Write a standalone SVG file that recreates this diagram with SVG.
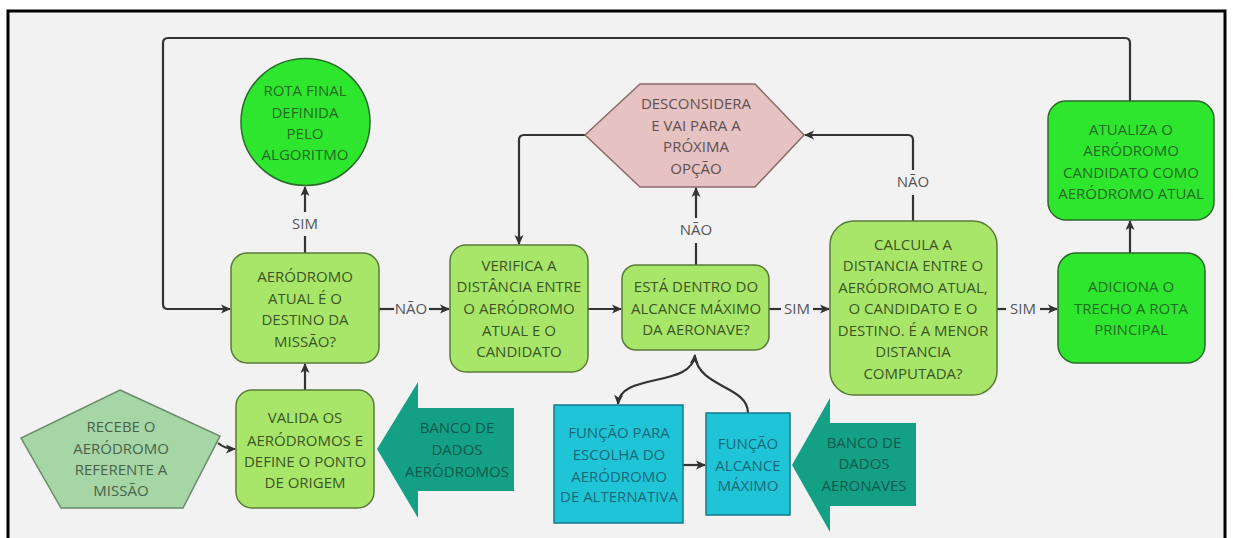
<svg xmlns="http://www.w3.org/2000/svg" width="1233" height="538" viewBox="0 0 1233 538">
<defs>
<marker id="ah" viewBox="0 0 10 10" refX="9" refY="5" markerWidth="10" markerHeight="10" markerUnits="userSpaceOnUse" orient="auto-start-reverse">
<path d="M0,0.5 L10,5 L0,9.5 L2.5,5 z" fill="#333"/>
</marker>
</defs>
<style>
text{font-family:"Open Sans","Liberation Sans",sans-serif;font-size:15px;text-anchor:middle}
.lg{fill:#a8e66a;stroke:#5a7a3a;stroke-width:1.5}
.bg{fill:#2fe62f;stroke:#2a6a2a;stroke-width:1.5}
.lgt{fill:#3b5524}
.bgt{fill:#236b23}
.cy{fill:#1fc5d6;stroke:#167a88;stroke-width:1.5}
.cyt{fill:#17697a}
.tl{fill:#14a084}
.tlt{fill:#0e5a4c}
.c{fill:none;stroke:#333;stroke-width:2.2}
.ca{fill:none;stroke:#333;stroke-width:2.2;marker-end:url(#ah)}
.lbl{fill:#555}
</style>
<rect x="0" y="0" width="1233" height="538" fill="#ffffff"/>
<rect x="8" y="11" width="1217" height="540" fill="#f2f2f2" stroke="#000" stroke-width="3"/>

<g id="connectors">
<path class="ca" d="M1130 101 V43 Q1130 38 1125 38 H168 Q163 38 163 43 V304 Q163 309 168 309 H230"/>
<path class="c" d="M305 253 V236"/>
<path class="ca" d="M305 212 V187"/>
<text class="lbl" x="305" y="229">SIM</text>
<path class="ca" d="M305 390 V364"/>
<path class="c" d="M379 309 H394"/>
<text class="lbl" x="411" y="314">NÃO</text>
<path class="ca" d="M429 309 H449"/>
<path class="ca" d="M588 309 H621"/>
<path class="ca" d="M585 135 H524 Q519 135 519 140 V244"/>
<path class="c" d="M696 265 V243"/>
<path class="ca" d="M696 218 V188"/>
<text class="lbl" x="696" y="235">NÃO</text>
<path class="c" d="M769 309 H781"/>
<text class="lbl" x="797" y="314">SIM</text>
<path class="ca" d="M813 309 H829"/>
<path class="c" d="M913 221 V195"/>
<path class="ca" d="M913 170 V140 Q913 135 908 135 H805"/>
<text class="lbl" x="913" y="187">NÃO</text>
<path class="c" d="M997 309 H1006"/>
<text class="lbl" x="1023" y="314">SIM</text>
<path class="ca" d="M1040 309 H1057"/>
<path class="ca" d="M1130 253 V221"/>
<path class="ca" d="M218 443 Q225 449 235 449"/>
<path class="ca" d="M683 465 H705"/>
<path class="c" d="M618 404 C620 372 692 388 695 355" marker-start="url(#ah)" marker-end="url(#ah)"/>
<path class="c" d="M748 413 C748 386 700 388 695 357"/>
</g>

<g id="n-rota">
<ellipse cx="305.5" cy="122" rx="64.5" ry="63.5" class="bg"/>
<text class="bgt" x="305" y="96">ROTA FINAL</text>
<text class="bgt" x="305" y="118">DEFINIDA</text>
<text class="bgt" x="305" y="139">PELO</text>
<text class="bgt" x="305" y="160">ALGORITMO</text>
</g>

<g id="n-desconsidera">
<polygon points="585,135 640,84 755,84 804,135 755,187 640,187" fill="#e6c2c2" stroke="#8a6a6a" stroke-width="1.5"/>
<text x="696" y="109" fill="#5e5050">DESCONSIDERA</text>
<text x="696" y="131" fill="#5e5050">E VAI PARA A</text>
<text x="696" y="152" fill="#5e5050">PRÓXIMA</text>
<text x="696" y="174" fill="#5e5050">OPÇÃO</text>
</g>

<g id="n-atualiza">
<rect x="1048" y="101" width="166" height="119" rx="18" class="bg"/>
<text class="bgt" x="1131" y="135">ATUALIZA O</text>
<text class="bgt" x="1131" y="156">AERÓDROMO</text>
<text class="bgt" x="1131" y="178">CANDIDATO COMO</text>
<text class="bgt" x="1131" y="199">AERÓDROMO ATUAL</text>
</g>

<g id="n-aerodromo-atual">
<rect x="231" y="253" width="148" height="110" rx="16" class="lg"/>
<text class="lgt" x="305" y="282">AERÓDROMO</text>
<text class="lgt" x="305" y="304">ATUAL É O</text>
<text class="lgt" x="305" y="325">DESTINO DA</text>
<text class="lgt" x="305" y="347">MISSÃO?</text>
</g>

<g id="n-verifica">
<rect x="450" y="245" width="138" height="127" rx="16" class="lg"/>
<text class="lgt" x="519" y="271">VERIFICA A</text>
<text class="lgt" x="519" y="292">DISTÂNCIA ENTRE</text>
<text class="lgt" x="519" y="314">O AERÓDROMO</text>
<text class="lgt" x="519" y="336">ATUAL E O</text>
<text class="lgt" x="519" y="357">CANDIDATO</text>
</g>

<g id="n-esta">
<rect x="622" y="265" width="147" height="85" rx="14" class="lg"/>
<text class="lgt" x="696" y="292">ESTÁ DENTRO DO</text>
<text class="lgt" x="696" y="314">ALCANCE MÁXIMO</text>
<text class="lgt" x="696" y="335">DA AERONAVE?</text>
</g>

<g id="n-calcula">
<rect x="830" y="221" width="167" height="174" rx="24" class="lg"/>
<text class="lgt" x="913" y="250">CALCULA A</text>
<text class="lgt" x="913" y="271">DISTANCIA ENTRE O</text>
<text class="lgt" x="913" y="293">AERÓDROMO ATUAL,</text>
<text class="lgt" x="913" y="314">O CANDIDATO E O</text>
<text class="lgt" x="913" y="336">DESTINO. É A MENOR</text>
<text class="lgt" x="913" y="357">DISTANCIA</text>
<text class="lgt" x="913" y="379">COMPUTADA?</text>
</g>

<g id="n-adiciona">
<rect x="1058" y="253" width="147" height="110" rx="18" class="bg"/>
<text class="bgt" x="1131" y="292">ADICIONA O</text>
<text class="bgt" x="1131" y="314">TRECHO A ROTA</text>
<text class="bgt" x="1131" y="335">PRINCIPAL</text>
</g>

<g id="n-valida">
<rect x="236" y="390" width="138" height="118" rx="16" class="lg"/>
<text class="lgt" x="305" y="423">VALIDA OS</text>
<text class="lgt" x="305" y="446">AERÓDROMOS E</text>
<text class="lgt" x="305" y="467">DEFINE O PONTO</text>
<text class="lgt" x="305" y="488">DE ORIGEM</text>
</g>

<g id="n-recebe">
<polygon points="120,390 220,436 183,508 61,508 21,438" fill="#a6d5a6" stroke="#6a8a6a" stroke-width="1.5"/>
<text x="121" y="432" fill="#4a634a">RECEBE O</text>
<text x="121" y="454" fill="#4a634a">AERÓDROMO</text>
<text x="121" y="475" fill="#4a634a">REFERENTE A</text>
<text x="121" y="496" fill="#4a634a">MISSÃO</text>
</g>

<g id="n-banco-aerodromos">
<polygon class="tl" points="377,449 418,382 418,408 514,408 514,491 418,491 418,518"/>
<text class="tlt" x="457" y="433">BANCO DE</text>
<text class="tlt" x="457" y="455">DADOS</text>
<text class="tlt" x="457" y="477">AERÓDROMOS</text>
</g>

<g id="n-funcao-escolha">
<rect x="554" y="405" width="129" height="118" class="cy"/>
<text class="cyt" x="619" y="438">FUNÇÃO PARA</text>
<text class="cyt" x="619" y="460">ESCOLHA DO</text>
<text class="cyt" x="619" y="482">AERÓDROMO</text>
<text class="cyt" x="619" y="502">DE ALTERNATIVA</text>
</g>

<g id="n-funcao-alcance">
<rect x="706" y="413" width="84" height="102" class="cy"/>
<text class="cyt" x="748" y="449">FUNÇÃO</text>
<text class="cyt" x="748" y="471">ALCANCE</text>
<text class="cyt" x="748" y="491">MÁXIMO</text>
</g>

<g id="n-banco-aeronaves">
<polygon class="tl" points="792,465 830,398 830,423 916,423 916,506 830,506 830,532"/>
<text class="tlt" x="864" y="448">BANCO DE</text>
<text class="tlt" x="864" y="469">DADOS</text>
<text class="tlt" x="864" y="491">AERONAVES</text>
</g>
</svg>
